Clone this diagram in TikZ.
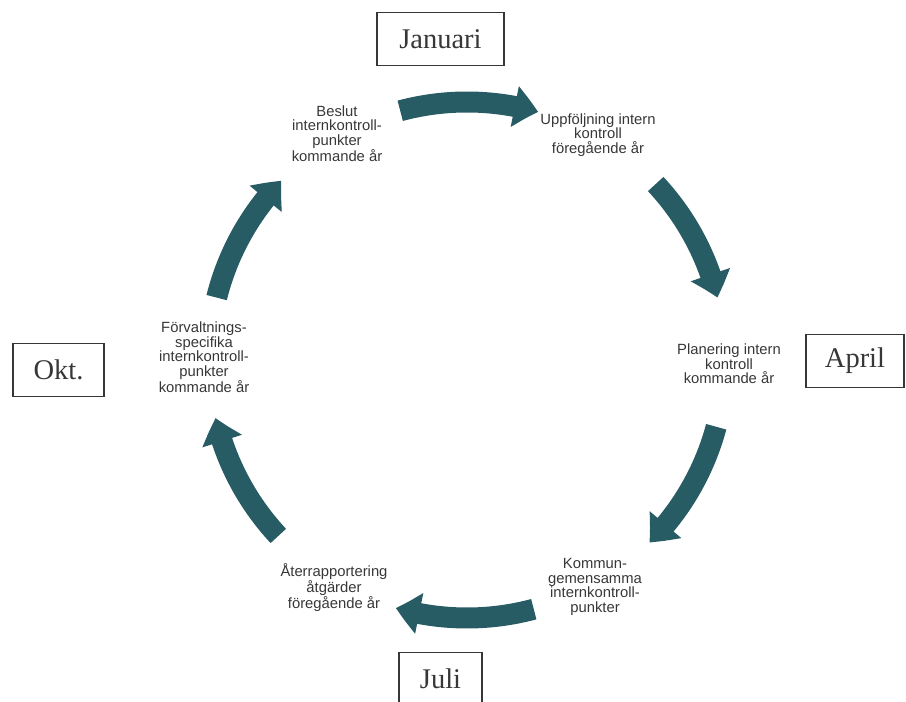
\documentclass[tikz,border=0pt]{standalone}
\usepackage{fontspec}
\setmainfont{Liberation Serif}
\setsansfont{Liberation Sans}
\usetikzlibrary{arrows.meta,bending}
\definecolor{cycleteal}{RGB}{40,92,100}
\definecolor{inkgray}{RGB}{55,55,55}
\tikzset{
	monthbox/.style={draw=inkgray, line width=1.2pt, text=inkgray, inner xsep=19pt, minimum height=53pt, font=\fontsize{28.5}{30}\selectfont},
	phase/.style={align=center, text=inkgray, inner sep=0pt, font=\sffamily\fontsize{14.8}{14.5}\selectfont},
	flow/.style={draw=cycleteal, line width=21pt, -{Triangle[width=40pt,length=24pt,bend]}}
}

\begin{document}
\begin{tikzpicture}[x=1pt, y=1pt]
			%%%%% START %%%%%
			
			\path[use as bounding box, clip] (0, 0) rectangle (906, 702);
			\coordinate (hub) at (467, 342);
			
			\node[monthbox, minimum width=127pt] (jan) at (440.5, 663) {Januari};
			\node[monthbox, minimum width=98pt] (apr) at (855, 341) {April};
			\node[monthbox, minimum width=91pt] (okt) at (58.5, 332) {Okt.};
			\node[monthbox, minimum width=83pt] (jul) at (440.5, 23) {Juli};
			
			\node[phase] (beslut) at (337, 568.5) {Beslut\\internkontroll-\\punkter\\kommande år};
			\node[phase] (uppf) at (598, 567) {Uppföljning intern\\kontroll\\föregående år};
			\node[phase] (plan) at (729, 338) {Planering intern\\kontroll\\kommande år};
			\node[phase] (kommun) at (595, 115) {Kommun-\\gemensamma\\internkontroll-\\punkter};
			\node[phase] (aterr) at (334, 114) {Återrapportering\\åtgärder\\föregående år};
			\node[phase] (forv) at (204, 345) {Förvaltnings-\\specifika\\internkontroll-\\punkter\\kommande år};
			
			\draw[flow] ([shift={(105:258pt)}]hub) arc[start angle=105, end angle=74, radius=258pt];
			\draw[flow] ([shift={(43:258pt)}]hub) arc[start angle=43, end angle=14, radius=258pt];
			\draw[flow] ([shift={(-15:258pt)}]hub) arc[start angle=-15, end angle=-45, radius=258pt];
			
			\draw[flow] ([shift={(-75:258pt)}]hub) arc[start angle=-75, end angle=-106, radius=258pt];
			\draw[flow] ([shift={(-137:258pt)}]hub) arc[start angle=-137, end angle=-167, radius=258pt];
			\draw[flow] ([shift={(166:258pt)}]hub) arc[start angle=166, end angle=136, radius=258pt];
			
			%%%%% END %%%%%
\end{tikzpicture}
\end{document}
